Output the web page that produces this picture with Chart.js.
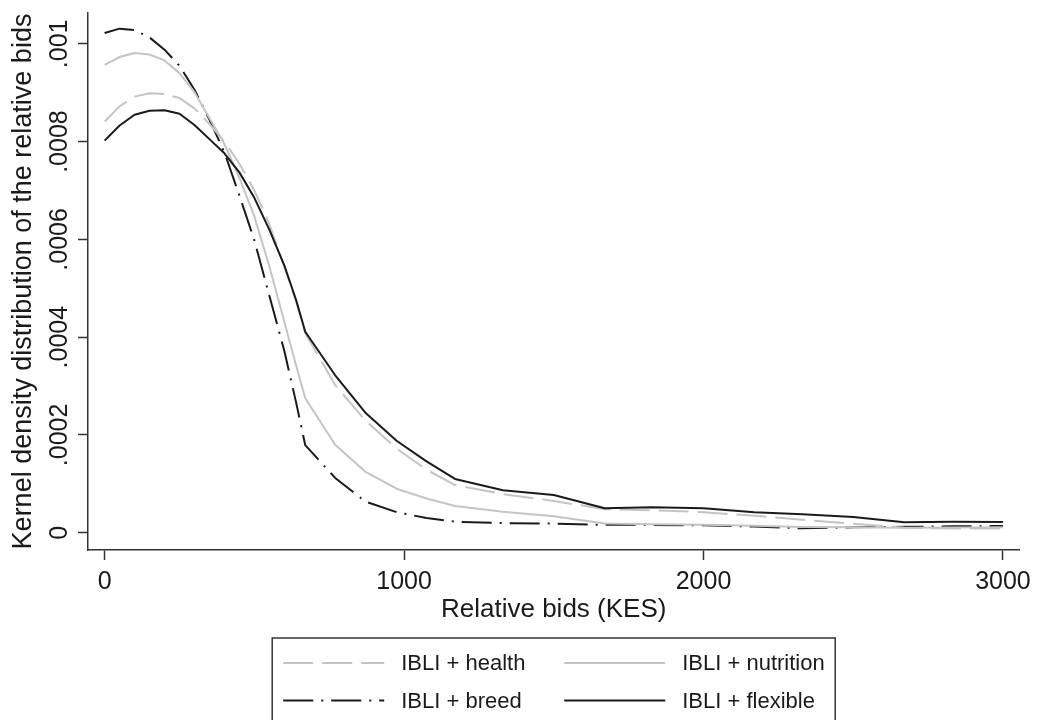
<!DOCTYPE html>
<html>
<head>
<meta charset="utf-8">
<title>Kernel density of relative bids</title>
<script src="https://cdn.jsdelivr.net/npm/chart.js@4.4.1/dist/chart.umd.min.js"></script>
<style>
  html, body { margin: 0; padding: 0; background: #fff; }
  #grafico { display: block; }
</style>
</head>
<body>
<canvas id="grafico" width="1038" height="720"></canvas>
<script>
// valores (densidade por lance relativo, KES)
const bids = [0, 50, 100, 150, 200, 250, 300, 350, 400, 450, 500, 550, 600, 640, 670,
  770, 870, 975, 1075, 1170, 1330, 1500, 1670, 1830, 2000, 2170, 2330, 2500, 2670, 2830, 3000];

const health = [0.000841, 0.000872, 0.000892, 0.000899, 0.000897, 0.000889, 0.000868, 0.000836,
  0.000800, 0.000755, 0.000700, 0.000631, 0.000543, 0.000472, 0.000408,
  0.000302, 0.000230, 0.000172, 0.000129, 0.0000975, 0.0000790, 0.0000650, 0.0000480,
  0.0000460, 0.0000420, 0.0000345, 0.0000265, 0.0000185, 0.0000100, 0.0000085, 0.0000085];

const nutrition = [0.000957, 0.000973, 0.000981, 0.000978, 0.000966, 0.000940, 0.000901, 0.000848,
  0.000795, 0.000726, 0.000647, 0.000545, 0.000432, 0.000341, 0.000275,
  0.000180, 0.000125, 0.0000900, 0.0000700, 0.0000546, 0.0000430, 0.0000335, 0.0000190,
  0.0000175, 0.0000160, 0.0000140, 0.0000115, 0.0000110, 0.0000100, 0.0000105, 0.0000110];

const breed = [0.001022, 0.001031, 0.001028, 0.001013, 0.000988, 0.000955, 0.000906, 0.000845,
  0.000778, 0.000690, 0.000598, 0.000485, 0.000372, 0.000265, 0.000179,
  0.000112, 0.0000640, 0.0000420, 0.0000300, 0.0000225, 0.0000195, 0.0000185, 0.0000160,
  0.0000160, 0.0000150, 0.0000125, 0.0000090, 0.0000110, 0.0000120, 0.0000130, 0.0000137];

const flexible = [0.000802, 0.000833, 0.000855, 0.000863, 0.000864, 0.000857, 0.000834, 0.000805,
  0.000776, 0.000737, 0.000685, 0.000620, 0.000547, 0.000475, 0.000411,
  0.000322, 0.000246, 0.000188, 0.000146, 0.000110, 0.0000870, 0.0000770, 0.0000500,
  0.0000520, 0.0000500, 0.0000420, 0.0000375, 0.0000320, 0.0000215, 0.0000225, 0.0000220];

const seriesNames = ['IBLI + health', 'IBLI + nutrition', 'IBLI + breed', 'IBLI + flexible'];
const xTicks = [0, 1000, 2000, 3000];
const yTicks = [0, 0.0002, 0.0004, 0.0006, 0.0008, 0.001];
const yTickLabels = ['0', '.0002', '.0004', '.0006', '.0008', '.001'];

const FONTE = '"Liberation Sans", Arial, Helvetica, sans-serif';
const PRETO = '#1a1a1a';
const CINZA = '#c4c4c4';

Chart.defaults.font.family = FONTE;

function pontos(valores) {
    return bids.map((b, i) => ({ x: b, y: valores[i] }));
}

// rótulos do eixo y na vertical, como no Stata
const rotulosEixoY = {
    id: 'rotulosEixoY',
    afterDraw(chart) {
        const ctx = chart.ctx;
        const y = chart.scales.y;
        ctx.save();
        ctx.fillStyle = PRETO;
        ctx.font = '25px ' + FONTE;
        ctx.textAlign = 'center';
        ctx.textBaseline = 'alphabetic';
        yTicks.forEach((v, i) => {
            ctx.save();
            ctx.translate(y.right - 21, y.getPixelForValue(v));
            ctx.rotate(-Math.PI / 2);
            ctx.fillText(yTickLabels[i], 0, 0);
            ctx.restore();
        });
        ctx.restore();
    }
};

// legenda em caixa, 2 x 2, abaixo do título do eixo x
const legendaCaixa = {
    id: 'legendaCaixa',
    afterDraw(chart) {
        const ctx = chart.ctx;
        const area = chart.chartArea;
        const centro = (area.left + area.right) / 2;
        const largura = 563;
        const esq = centro - largura / 2;
        const topo = area.bottom + 88;
        ctx.save();
        ctx.strokeStyle = '#333';
        ctx.lineWidth = 1.5;
        ctx.strokeRect(esq, topo, largura, 100);
        ctx.font = '22px ' + FONTE;
        ctx.fillStyle = PRETO;
        ctx.textBaseline = 'middle';
        chart.data.datasets.forEach((ds, i) => {
            const col = i % 2;
            const lin = Math.floor(i / 2);
            const x0 = esq + 11 + col * 281;
            const y0 = topo + 25 + lin * 37.5;
            ctx.save();
            ctx.strokeStyle = ds.borderColor;
            ctx.lineWidth = ds.borderWidth;
            ctx.setLineDash(ds.borderDash || []);
            ctx.beginPath();
            ctx.moveTo(x0, y0);
            ctx.lineTo(x0 + 101, y0);
            ctx.stroke();
            ctx.restore();
            ctx.fillText(ds.label, x0 + 118, y0 + 1);
        });
        ctx.restore();
    }
};

const eixoComum = {
    grid: { drawOnChartArea: false, drawTicks: true, tickLength: 10, tickColor: '#333', tickWidth: 1.5 },
    border: { display: true, color: '#333', width: 1.5 }
};

function configurarGrafico() {
    const ctx = document.getElementById('grafico').getContext('2d');
    new Chart(ctx, {
        type: 'line',
        data: {
            datasets: [
                { label: seriesNames[0], data: pontos(health), borderColor: CINZA, borderWidth: 2,
                  borderDash: [30, 9], order: 1 },
                { label: seriesNames[1], data: pontos(nutrition), borderColor: CINZA, borderWidth: 2,
                  order: 2 },
                { label: seriesNames[2], data: pontos(breed), borderColor: PRETO, borderWidth: 2,
                  borderDash: [30, 8, 2, 8], order: 3 },
                { label: seriesNames[3], data: pontos(flexible), borderColor: PRETO, borderWidth: 2,
                  order: 0 }
            ]
        },
        options: {
            responsive: false,
            animation: false,
            devicePixelRatio: 1,
            layout: { padding: { top: 13, right: 13, left: 0, bottom: 0 } },
            elements: {
                point: { radius: 0 },
                line: { tension: 0, fill: false, borderJoinStyle: 'round' }
            },
            plugins: { legend: { display: false }, tooltip: { enabled: false } },
            scales: {
                x: {
                    type: 'linear',
                    min: -55.5,
                    max: 3055,
                    afterBuildTicks: s => { s.ticks = xTicks.map(v => ({ value: v })); },
                    afterFit: s => { s.height = 170; },
                    ticks: { color: PRETO, font: { size: 25 }, padding: 7, maxRotation: 0,
                             autoSkip: false, callback: v => String(v) },
                    title: { display: true, text: 'Relative bids (KES)', color: PRETO,
                             font: { size: 26 }, padding: { top: 0, bottom: 95 } },
                    ...eixoComum
                },
                y: {
                    type: 'linear',
                    min: -0.0000354,
                    max: 0.001063,
                    afterBuildTicks: s => { s.ticks = yTicks.map(v => ({ value: v })); },
                    afterFit: s => { s.width = 88; },
                    ticks: { display: false },
                    title: { display: true, text: 'Kernel density distribution of the relative bids',
                             color: PRETO, font: { size: 27 }, padding: { top: 7, bottom: 0 } },
                    ...eixoComum
                }
            }
        },
        plugins: [rotulosEixoY, legendaCaixa]
    });
}

window.onload = function() {
    configurarGrafico();
};
</script>
</body>
</html>
